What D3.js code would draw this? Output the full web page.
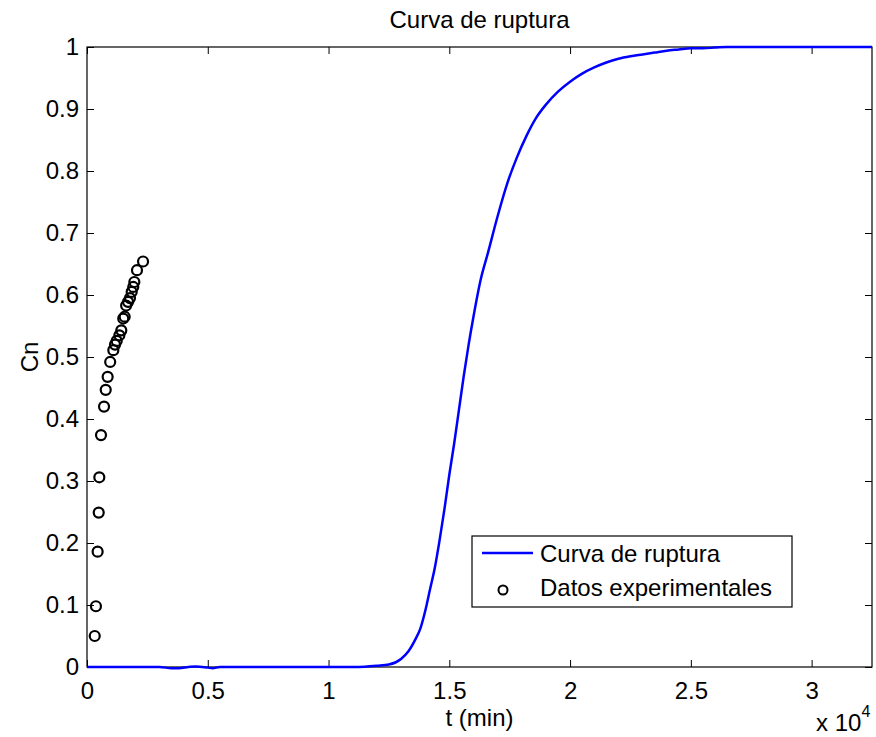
<!DOCTYPE html>
<html>
<head>
<meta charset="utf-8">
<script src="https://cdn.jsdelivr.net/npm/d3@7"></script>
<style>
  body { margin: 0; background: #fff; }
  svg { font-family: "Liberation Sans", Arial, sans-serif; }
</style>
</head>
<body>
<div id="chart"></div>
<script>
// curva de ruptura (modelo)
var tCurva = [0, 500, 1000, 1500, 2000, 2500, 3000, 3500, 3800, 4200, 4500, 5000, 5200, 5500, 6000, 7000, 8000, 9000, 10000, 11000, 11500, 12000, 12500, 13000, 13300, 13600, 13800, 14000, 14200, 14400, 14600, 14800, 15000, 15200, 15400, 15600, 15800, 16000, 16300, 16600, 17000, 17400, 17800, 18200, 18600, 19000, 19500, 20000, 20500, 21000, 21500, 22000, 22500, 23000, 23500, 24000, 24500, 25000, 25500, 26000, 26500, 27000, 28000, 29000, 30000, 31000, 32000, 32500];
var cnCurva = [0, 0, 0, 0, 0, 0, 0, -0.002, -0.002, 0, 0.001, -0.001, -0.002, 0, 0, 0, 0, 0, 0, 0, 0.0005, 0.002, 0.004, 0.013, 0.025, 0.045, 0.062, 0.09, 0.125, 0.16, 0.205, 0.255, 0.31, 0.36, 0.415, 0.47, 0.52, 0.565, 0.625, 0.668, 0.727, 0.78, 0.822, 0.857, 0.886, 0.907, 0.928, 0.944, 0.957, 0.967, 0.975, 0.981, 0.985, 0.988, 0.991, 0.994, 0.996, 0.998, 0.998, 0.999, 1, 1, 1, 1, 1, 1, 1, 1];

// datos experimentales
var tExp = [320, 370, 440, 485, 510, 580, 705, 775, 855, 960, 1090, 1160, 1230, 1340, 1420, 1500, 1560, 1620, 1700, 1780, 1850, 1915, 1960, 2070, 2320];
var cnExp = [0.050, 0.098, 0.186, 0.249, 0.306, 0.374, 0.420, 0.447, 0.468, 0.492, 0.511, 0.520, 0.526, 0.535, 0.543, 0.562, 0.565, 0.583, 0.589, 0.595, 0.605, 0.613, 0.621, 0.640, 0.654];

var xTicks = [0, 5000, 10000, 15000, 20000, 25000, 30000];
var xTickLabels = ["0", "0.5", "1", "1.5", "2", "2.5", "3"];
var yTicks = [0, 0.1, 0.2, 0.3, 0.4, 0.5, 0.6, 0.7, 0.8, 0.9, 1];
var yTickLabels = ["0", "0.1", "0.2", "0.3", "0.4", "0.5", "0.6", "0.7", "0.8", "0.9", "1"];

var svgWidth = 876;
var svgHeight = 737;
var margin = {top: 47, right: 4, bottom: 70, left: 87};
var w = svgWidth - margin.left - margin.right;
var h = svgHeight - margin.top - margin.bottom;
var fontSize = 24;

var svg = d3.select("#chart")
  .append("svg")
  .attr("width", svgWidth)
  .attr("height", svgHeight);

var g = svg.append("g")
  .attr("transform", "translate(" + margin.left + "," + margin.top + ")");

var x = d3.scaleLinear().domain([0, 32500]).range([0, w]);
var y = d3.scaleLinear().domain([0, 1]).range([h, 0]);

var tickLen = 7;

// ejes (ticks hacia dentro, en los cuatro lados)
var xAxis = d3.axisBottom(x).tickValues(xTicks)
  .tickFormat(function(d, i) { return xTickLabels[i]; })
  .tickSizeInner(-tickLen).tickSizeOuter(0).tickPadding(15);
var xAxisTop = d3.axisTop(x).tickValues(xTicks).tickFormat("")
  .tickSizeInner(-tickLen).tickSizeOuter(0);
var yAxis = d3.axisLeft(y).tickValues(yTicks)
  .tickFormat(function(d, i) { return yTickLabels[i]; })
  .tickSizeInner(-tickLen).tickSizeOuter(0).tickPadding(8);
var yAxisRight = d3.axisRight(y).tickValues(yTicks).tickFormat("")
  .tickSizeInner(-tickLen).tickSizeOuter(0);

g.append("g").attr("transform", "translate(0," + h + ")").call(xAxis);
g.append("g").call(xAxisTop);
g.append("g").call(yAxis);
g.append("g").attr("transform", "translate(" + w + ",0)").call(yAxisRight);

g.selectAll(".domain").remove();
g.selectAll(".tick line").attr("stroke", "#000").attr("stroke-width", 1);
g.selectAll(".tick text")
  .attr("fill", "#000")
  .style("font-size", fontSize + "px")
  .style("font-family", "'Liberation Sans', Arial, sans-serif");

// marco
g.append("rect")
  .attr("x", 0).attr("y", 0)
  .attr("width", w).attr("height", h)
  .attr("fill", "none")
  .attr("stroke", "#000")
  .attr("stroke-width", 1.2);

// curva
var line = d3.line()
  .curve(d3.curveMonotoneX)
  .x(function(d) { return x(d[0]); })
  .y(function(d) { return y(d[1]); });

var curva = tCurva.map(function(t, i) { return [t, cnCurva[i]]; });
g.append("path")
  .datum(curva)
  .attr("d", line)
  .attr("fill", "none")
  .attr("stroke", "#0000ff")
  .attr("stroke-width", 2.5)
  .attr("stroke-linejoin", "round");

// puntos experimentales
var puntos = tExp.map(function(t, i) { return [t, cnExp[i]]; });
g.selectAll("circle.exp")
  .data(puntos)
  .enter()
  .append("circle")
  .attr("class", "exp")
  .attr("cx", function(d) { return x(d[0]); })
  .attr("cy", function(d) { return y(d[1]); })
  .attr("r", 5)
  .attr("fill", "none")
  .attr("stroke", "#000")
  .attr("stroke-width", 2.2);

// titulo y etiquetas
svg.append("text")
  .attr("x", margin.left + w / 2)
  .attr("y", 28)
  .attr("text-anchor", "middle")
  .style("font-size", fontSize + "px")
  .text("Curva de ruptura");

svg.append("text")
  .attr("x", margin.left + w / 2)
  .attr("y", 726)
  .attr("text-anchor", "middle")
  .style("font-size", fontSize + "px")
  .text("t (min)");

svg.append("text")
  .attr("transform", "translate(38," + (margin.top + h / 2) + ") rotate(-90)")
  .attr("text-anchor", "middle")
  .style("font-size", fontSize + "px")
  .text("Cn");

var expo = svg.append("text")
  .attr("x", 816)
  .attr("y", 731)
  .style("font-size", fontSize + "px");
expo.append("tspan").text("x 10");
expo.append("tspan").attr("dy", -14).style("font-size", "16px").text("4");

// leyenda
var leg = svg.append("g").attr("transform", "translate(472,536)");
leg.append("rect")
  .attr("width", 320).attr("height", 71)
  .attr("fill", "#fff").attr("stroke", "#000").attr("stroke-width", 1.2);
leg.append("line")
  .attr("x1", 10).attr("x2", 61).attr("y1", 17).attr("y2", 17)
  .attr("stroke", "#0000ff").attr("stroke-width", 2.5);
leg.append("circle")
  .attr("cx", 31).attr("cy", 54).attr("r", 4.5)
  .attr("fill", "none").attr("stroke", "#000").attr("stroke-width", 2);
leg.append("text")
  .attr("x", 68).attr("y", 26)
  .style("font-size", fontSize + "px")
  .text("Curva de ruptura");
leg.append("text")
  .attr("x", 68).attr("y", 60)
  .style("font-size", fontSize + "px")
  .text("Datos experimentales");
</script>
</body>
</html>
